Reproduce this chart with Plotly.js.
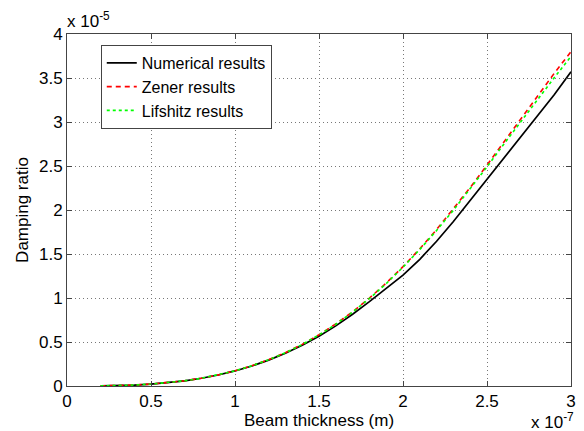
<!DOCTYPE html>
<html>
<head>
<meta charset="utf-8">
<script src="https://cdn.plot.ly/plotly-3.0.1.min.js"></script>
<style>html,body{margin:0;padding:0;background:#fff;}#chart{width:584px;height:431px;}</style>
</head>
<body>
<div id="chart"></div>
<script>
// Beam thickness in units of 1e-7 m
const thickness = [0.2,0.3,0.4,0.5,0.6,0.7,0.8,0.9,1.0,1.1,1.2,1.3,1.4,1.5,1.6,1.7,1.8,1.9,2.0,2.1,2.2,2.3,2.4,2.5,2.6,2.7,2.8,2.9,3.0];
// Damping ratio in units of 1e-5
const numerical = [0.0014,0.0047,0.011,0.021,0.037,0.059,0.088,0.125,0.171,0.227,0.294,0.372,0.462,0.565,0.683,0.815,0.958,1.105,1.26,1.44,1.645,1.87,2.11,2.36,2.60,2.84,3.07,3.31,3.57];
const zener = [0.0014,0.0047,0.011,0.022,0.037,0.059,0.089,0.126,0.173,0.230,0.299,0.379,0.473,0.582,0.705,0.843,0.998,1.169,1.356,1.560,1.778,2.011,2.255,2.510,2.773,3.034,3.297,3.553,3.799];
const lifshitz = [0.0014,0.0047,0.011,0.022,0.037,0.059,0.088,0.126,0.172,0.229,0.298,0.378,0.471,0.580,0.702,0.840,0.994,1.164,1.350,1.552,1.768,1.998,2.240,2.490,2.748,3.003,3.258,3.503,3.745];
const seriesNames = ['Numerical results','Zener results','Lifshitz results'];
const xTicks = [0,0.5,1,1.5,2,2.5,3];
const yTicks = [0,0.5,1,1.5,2,2.5,3,3.5,4];

const font = {family:'Liberation Sans, Arial, sans-serif', size:17, color:'#000'};
const legendFont = {family:'Liberation Sans, Arial, sans-serif', size:16, color:'#000'};
const traces = [
  {x:thickness, y:numerical, name:seriesNames[0], mode:'lines', line:{color:'#000000', width:1.7}},
  {x:thickness, y:zener, name:seriesNames[1], mode:'lines', line:{color:'#ff0000', width:1.6, dash:'5px,4px'}},
  {x:thickness, y:lifshitz, name:seriesNames[2], mode:'lines', line:{color:'#00ff00', width:1.6, dash:'dot'}}
];
const axisCommon = {
  showline:true, linecolor:'#444', linewidth:1, mirror:'ticks',
  ticks:'inside', ticklen:5, tickcolor:'#444', tickwidth:1,
  showgrid:true, gridcolor:'#777', griddash:'1px,3px', gridwidth:1,
  zeroline:false, tickfont:font
};
const layout = {
  width:584, height:431,
  margin:{l:67, r:13, t:34, b:45, pad:0},
  paper_bgcolor:'#fff', plot_bgcolor:'#fff',
  font:font,
  showlegend:true,
  legend:{x:0.067, y:0.969, xanchor:'left', yanchor:'top', bgcolor:'#fff', bordercolor:'#444', borderwidth:1, font:legendFont, tracegroupgap:0, itemwidth:30},
  xaxis:Object.assign({}, axisCommon, {range:[0,3], tickvals:xTicks, ticktext:xTicks.map(String),
    title:{text:'Beam thickness (m)', font:font, standoff:0}}),
  yaxis:Object.assign({}, axisCommon, {range:[0,4], tickvals:yTicks, ticktext:yTicks.map(String),
    title:{text:'Damping ratio', font:font, standoff:6}}),
  annotations:[
    {xref:'paper', yref:'paper', x:0, y:1, xanchor:'left', yanchor:'bottom', yshift:1, xshift:-2, showarrow:false,
     text:'x 10<sup>-5</sup>', font:font},
    {xref:'paper', yref:'paper', x:1, y:0, xanchor:'right', yanchor:'top', yshift:-22, xshift:5, showarrow:false,
     text:'x 10<sup>-7</sup>', font:font}
  ]
};
Plotly.newPlot('chart', traces, layout, {staticPlot:true, displayModeBar:false});
</script>
</body>
</html>
